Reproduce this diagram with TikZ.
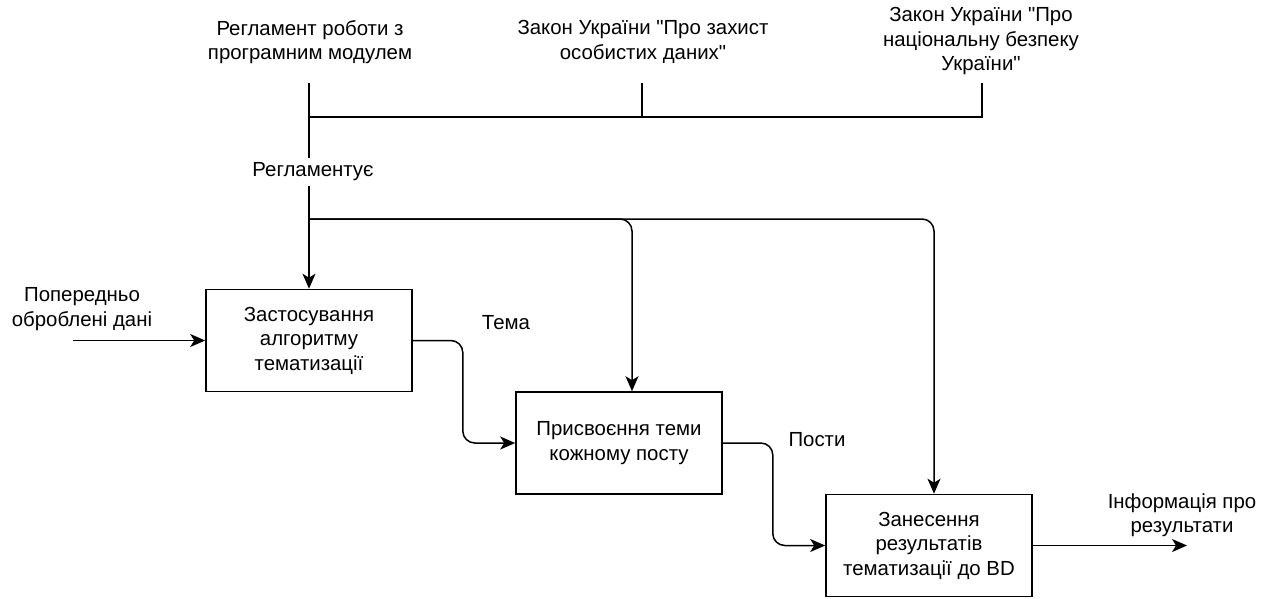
\documentclass[tikz,border=0pt]{standalone}
\usepackage{fontspec}
\setmainfont{Liberation Sans}[Ligatures=TeXOff]
\usetikzlibrary{arrows.meta}
\begin{document}
\begin{tikzpicture}[x=1pt,y=-1pt,
  lbl/.style={align=center, inner sep=0pt, font=\fontsize{20.4}{24.5}\selectfont},
  proc/.style={draw, line width=1.6pt, align=center, minimum width=206pt, minimum height=102pt, inner sep=0pt, font=\fontsize{20.4}{24.5}\selectfont},
  conn/.style={line width=1.5pt},
  flow/.style={line width=1.5pt, -{Stealth[length=15pt,width=13pt,inset=4pt]}, rounded corners=12pt}]
\useasboundingbox (0,0) rectangle (1269,598);

% top labels
\node[lbl] (L1) at (310,42) {Регламент роботи з\\програмним модулем};
\node[lbl] (L2) at (643,42) {Закон України "Про захист\\особистих даних"};
\node[lbl] (L3) at (981,41) {Закон України "Про\\національну безпеку\\України"};

\coordinate (t1) at (309,83);
\coordinate (t2) at (642,83);
\coordinate (t3) at (982,83);
\coordinate (j1) at (309,117);
\coordinate (j2) at (309,219);

% boxes
\node[proc] (b1) at (309,340.5) {Застосування\\алгоритму\\тематизації};
\node[proc] (b2) at (619,443) {Присвоєння теми\\кожному посту};
\node[proc] (b3) at (929,545.5) {Занесення\\результатів\\тематизації до BD};

% controls
\draw[conn] (t1) -- (j1);
\draw[conn] (t2) -- (t2 |- j1);
\draw[conn] (t3) -- (t3 |- j1) -- (j1);
\draw[conn] (j1) -- (j2);
\node[lbl, fill=white, inner xsep=1pt, inner ysep=5pt] (reg) at (313,172) {Регламентує};
\draw[flow] (j2) -- (b1.north);
\draw[flow] (j2) -| ([xshift=13pt]b2.north);
\draw[flow] (j2) -| ([xshift=5pt]b3.north);

% input
\coordinate (in) at (73,340.5);
\node[lbl] (inl) at (82,309) {Попередньо\\оброблені дані};
\draw[flow] (in) -- (b1.west);

% flows between boxes
\draw[flow] (b1.east) -- ++(50,0) |- (b2.west);
\node[lbl] (tema) at (506,323) {Тема};
\draw[flow] (b2.east) -- ++(50,0) |- (b3.west);
\node[lbl] (posty) at (817,440) {Пости};

% output
\coordinate (out) at (1187,545.5);
\draw[flow] (b3.east) -- (out);
\node[lbl] (outl) at (1182,515) {Інформація про\\результати};
\end{tikzpicture}
\end{document}
